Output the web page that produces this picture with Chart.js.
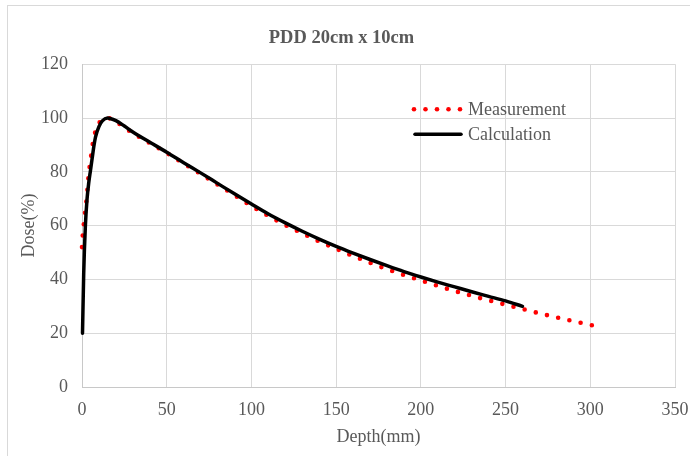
<!DOCTYPE html>
<html>
<head>
<meta charset="utf-8">
<title>PDD 20cm x 10cm</title>
<script src="https://cdn.jsdelivr.net/npm/chart.js@4"></script>
<style>
    html, body { margin: 0; padding: 0; background: #fff; overflow: hidden; }
    #frame {
        position: absolute; left: 7px; top: 5px;
        width: 700px; height: 450px;
        border-left: 1px solid #d9d9d9; border-top: 1px solid #d9d9d9;
    }
    canvas { display: block; }
</style>
</head>
<body>
<div id="frame"><canvas id="pddChart" width="700" height="450"></canvas></div>
<script>
//Measured depth dose (depth in mm, dose in %):
const depthMeasured = [0, 0.5, 1.2, 2, 2.8, 3.4, 4, 5, 6, 7.3, 9.5, 12, 15, 20, 25, 30, 40, 50, 60, 70, 80, 90, 100,
    110, 120, 130, 140, 150, 160, 170, 180, 190, 200, 210, 220, 230, 240, 250, 260, 270, 280, 290, 300, 305];
const doseMeasured = [52, 57, 61.5, 66, 70.5, 75, 79.5, 84, 89, 93.5, 97.5, 99.3, 100, 98.6, 96.5, 94.4, 90.7, 87, 83.1, 79.2, 75.3, 71.3, 67.3,
    63.6, 60.2, 57.1, 54.1, 51.4, 48.7, 46.2, 43.8, 41.6, 39.6, 37.6, 35.7, 33.9, 32.2, 30.6, 29.0, 27.4, 25.9, 24.5, 23.1, 22.4];

//Calculated depth dose:
const depthCalculated = [0.3, 1, 2, 3, 4, 5, 6, 7, 8, 10, 12, 15, 20, 25, 30, 40, 50, 60, 70, 80, 90, 100,
    110, 120, 130, 140, 150, 160, 170, 180, 190, 200, 210, 220, 230, 240, 250, 260];
const doseCalculated = [20, 42, 60, 70, 76, 80.5, 85, 89.5, 93, 96.8, 98.9, 100, 99, 97, 94.8, 91, 87.3, 83.4, 79.6, 75.7, 71.8, 68,
    64.3, 61, 57.9, 55, 52.3, 49.8, 47.4, 45.1, 42.9, 40.9, 39, 37.2, 35.4, 33.7, 32, 30];

//Axis ticks:
const depthTicks = [0, 50, 100, 150, 200, 250, 300, 350];
const doseTicks = [0, 20, 40, 60, 80, 100, 120];

const seriesNames = ['Measurement', 'Calculation'];

const toPoints = (xs, ys) => xs.map((x, i) => ({x: x, y: ys[i]}));

const textGray = '#595959';
const gridGray = '#d9d9d9';
const serif = '"Liberation Serif", "Times New Roman", serif';

//Legend drawn inside the plot area, Excel style:
const innerLegend = {
    id: 'innerLegend',
    afterDatasetsDraw(chart) {
        const ctx = chart.ctx;
        const area = chart.chartArea;
        const x0 = area.left + 332;
        const y0 = area.top + 45;

        ctx.save();
        //dotted sample
        ctx.fillStyle = chart.data.datasets[0].borderColor;
        for (let i = 0; i < 5; i++) {
            ctx.beginPath();
            ctx.arc(x0 + i * 11.5, y0, 2.3, 0, Math.PI * 2);
            ctx.fill();
        }
        //solid sample
        ctx.strokeStyle = chart.data.datasets[1].borderColor;
        ctx.lineWidth = 3.5;
        ctx.lineCap = 'round';
        ctx.beginPath();
        ctx.moveTo(x0 + 1, y0 + 25);
        ctx.lineTo(x0 + 47, y0 + 25);
        ctx.stroke();

        ctx.fillStyle = textGray;
        ctx.font = '18px ' + serif;
        ctx.textBaseline = 'middle';
        ctx.textAlign = 'left';
        ctx.fillText(seriesNames[0], x0 + 54, y0 + 1);
        ctx.fillText(seriesNames[1], x0 + 54, y0 + 26);
        ctx.restore();
    }
};

const ctx = document.getElementById('pddChart').getContext('2d');

const chart = new Chart(ctx, {
    type: 'line',
    data: {
        datasets: [{
            label: seriesNames[0],
            data: toPoints(depthMeasured, doseMeasured),
            borderColor: '#ff0000',
            borderWidth: 4.6,
            borderDash: [0, 11.5],
            borderCapStyle: 'round',
            cubicInterpolationMode: 'monotone',
            pointRadius: 0,
            clip: 6,
            order: 2
        }, {
            label: seriesNames[1],
            data: toPoints(depthCalculated, doseCalculated),
            borderColor: '#000000',
            borderWidth: 3.5,
            borderCapStyle: 'round',
            cubicInterpolationMode: 'monotone',
            pointRadius: 0,
            clip: 6,
            order: 1
        }]
    },
    plugins: [innerLegend],
    options: {
        responsive: false,
        animation: false,
        layout: { padding: { left: 0, right: 33, top: 0, bottom: 0 } },
        plugins: {
            legend: { display: false },
            tooltip: { enabled: false },
            title: {
                display: true,
                text: 'PDD 20cm x 10cm',
                color: textGray,
                font: { family: serif, size: 18.5, weight: 'bold' },
                padding: { top: 21, bottom: 15 }
            }
        },
        scales: {
            x: {
                type: 'linear',
                min: depthTicks[0],
                max: depthTicks[depthTicks.length - 1],
                afterBuildTicks: (scale) => { scale.ticks = depthTicks.map(v => ({value: v})); },
                afterFit: (scale) => { scale.height = 69; },
                grid: { color: gridGray, drawTicks: false },
                border: { color: '#c8c8c8' },
                ticks: { color: textGray, font: { family: serif, size: 18 }, padding: 12, maxRotation: 0 },
                title: {
                    display: true,
                    text: 'Depth(mm)',
                    color: textGray,
                    font: { family: serif, size: 18 },
                    padding: { top: 0, bottom: 8 }
                }
            },
            y: {
                min: doseTicks[0],
                max: doseTicks[doseTicks.length - 1],
                afterBuildTicks: (scale) => { scale.ticks = doseTicks.map(v => ({value: v})); },
                afterFit: (scale) => { scale.width = 74; },
                grid: { color: gridGray, drawTicks: false },
                border: { color: '#c8c8c8' },
                ticks: { color: textGray, font: { family: serif, size: 18 }, padding: 14 },
                title: {
                    display: true,
                    text: 'Dose(%)',
                    color: textGray,
                    font: { family: serif, size: 18 },
                    padding: { top: 10, bottom: 0 }
                }
            }
        }
    }
});
</script>
</body>
</html>
